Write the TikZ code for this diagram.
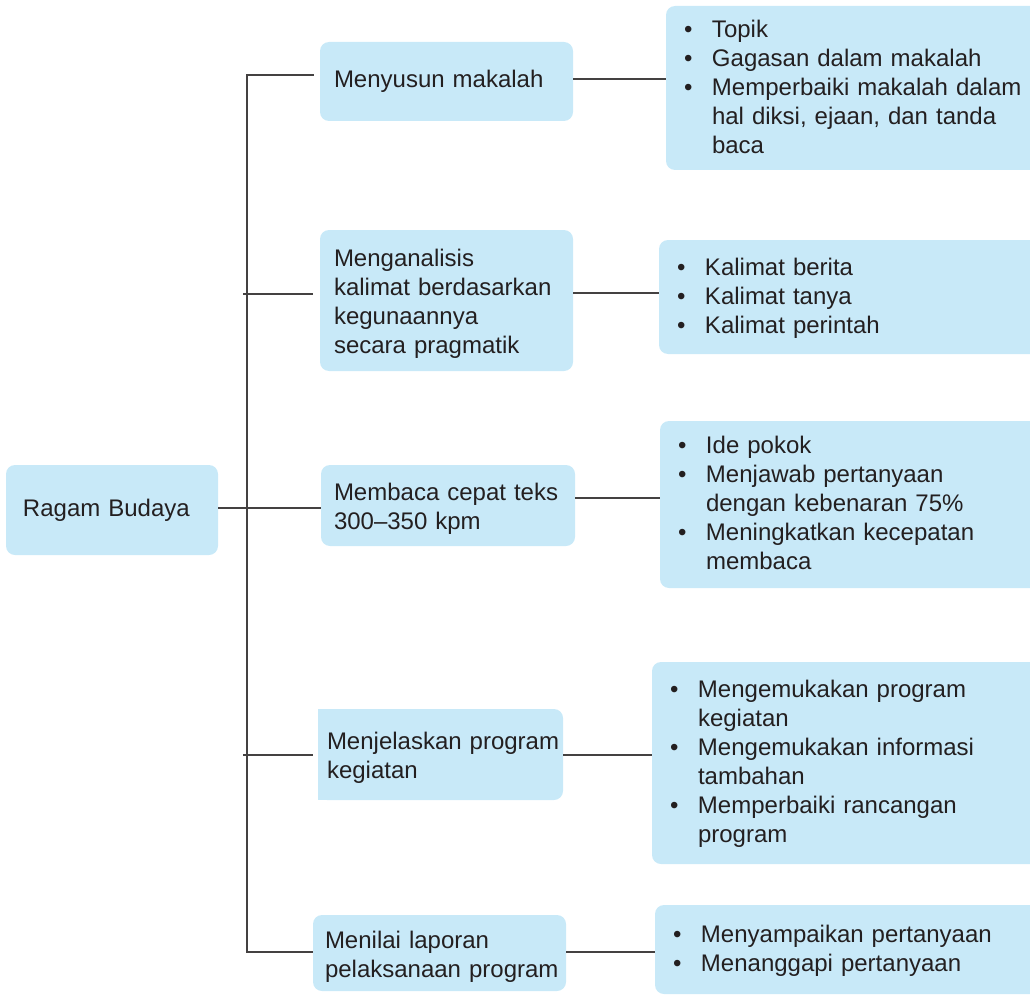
\documentclass[tikz,border=0pt]{standalone}
\usepackage{fontspec}
\setmainfont{Liberation Sans}
\usetikzlibrary{calc,backgrounds}
\definecolor{boxblue}{HTML}{C8E9F8}
\definecolor{ink}{HTML}{231F20}
\newcommand\boxfs{\fontsize{24}{29}\selectfont\hyphenpenalty=10000\exhyphenpenalty=10000}
\newcommand\itm[1]{\par\hangindent=28pt\hangafter=1\noindent\strut\makebox[28pt][l]{•}#1\strut\par}
\newcommand\ltext[1]{\begin{tabular}{@{}l@{}}\rule{0pt}{28.3pt}#1\end{tabular}}
\begin{document}
\begin{tikzpicture}[x=1pt,y=-1pt,
  box/.style={fill=boxblue, rounded corners=9pt, inner ysep=0pt, align=left, font=\boxfs, text=ink},
  tx/.style={execute at begin node={\vspace*{#1}}},
  link/.style={draw=ink!85, line width=1.2pt}]
\useasboundingbox (0,0) rectangle (1030,995);
\clip (0,0) rectangle (1030,995);
% left column
\node[box, inner xsep=17pt, text width=178pt, minimum height=90pt] (root) at (112,510) {Ragam Budaya};
\node[box, inner xsep=14pt, text width=225pt, minimum height=79pt] (m1) at (446.5,81.5) {Menyusun makalah};
\node[box, inner xsep=14pt, text width=225pt, minimum height=141pt] (m2) at (446.5,300.5) {\ltext{Menganalisis\\kalimat berdasarkan\\kegunaannya\\secara pragmatik}};
\node[box, inner xsep=13pt, text width=228pt, minimum height=81pt] (m3) at (448,505.5) {\ltext{Membaca cepat teks\\300--350 kpm}};
\node[box, inner xsep=9pt, text width=227pt, minimum height=91pt] (m4) at (440.5,754.5) {\ltext{Menjelaskan program\\kegiatan}};
\node[box, inner xsep=12pt, text width=229pt, minimum height=76pt] (m5) at (439.5,953) {\ltext{Menilai laporan\\pelaksanaan program}};
\begin{scope}[on background layer]
\fill[boxblue] (m4.north west) rectangle (m4.south);
\end{scope}
% right column
\node[box, tx=-6pt, inner xsep=18pt, text width=343pt, minimum height=164pt] (r1) at (855.5,88) {\itm{Topik}\itm{Gagasan dalam makalah}\itm{Memperbaiki makalah dalam\newline hal diksi, ejaan, dan tanda\newline baca}};
\node[box, tx=-6pt, inner xsep=18pt, text width=350pt, minimum height=114pt] (r2) at (852,297) {\itm{Kalimat berita}\itm{Kalimat tanya}\itm{Kalimat perintah}};
\node[box, tx=-6pt, inner xsep=18pt, text width=349pt, minimum height=167pt] (r3) at (852.5,504.5) {\itm{Ide pokok}\itm{Menjawab pertanyaan\newline dengan kebenaran 75\%}\itm{Meningkatkan kecepatan\newline membaca}};
\node[box, tx=-6pt, inner xsep=18pt, text width=357pt, minimum height=202pt] (r4) at (848.5,763) {\itm{Mengemukakan program\newline kegiatan}\itm{Mengemukakan informasi\newline tambahan}\itm{Memperbaiki rancangan\newline program}};
\node[box, tx=-6pt, inner xsep=18pt, text width=354pt, minimum height=89pt] (r5) at (850,949.5) {\itm{Menyampaikan pertanyaan}\itm{Menanggapi pertanyaan}};
% connectors
\coordinate (jt) at (247,75);
\coordinate (jb) at (247,952);
\coordinate (k2) at (243,294);
\coordinate (k4) at (243,755);
\coordinate (h0) at (0,508);
\coordinate (h1) at (0,79);
\coordinate (h2) at (0,293);
\coordinate (h3) at (0,498);
\coordinate (h4) at (0,755);
\coordinate (h5) at (0,952);
\draw[link] ($(m1.west |- jt)+(-6,0)$) -- (jt) -- (jb) -- (m5.west |- jb);
\draw[link] (k2) -- ($(m2.west |- k2)+(-7,0)$);
\draw[link] (k4) -- ($(m4.west |- k4)+(-5,0)$);
\draw[link] (root.east |- h0) -- (m3.west |- h0);
\draw[link] (m1.east |- h1) -- (r1.west |- h1);
\draw[link] (m2.east |- h2) -- (r2.west |- h2);
\draw[link] (m3.east |- h3) -- (r3.west |- h3);
\draw[link] (m4.east |- h4) -- (r4.west |- h4);
\draw[link] (m5.east |- h5) -- (r5.west |- h5);
\end{tikzpicture}
\end{document}
